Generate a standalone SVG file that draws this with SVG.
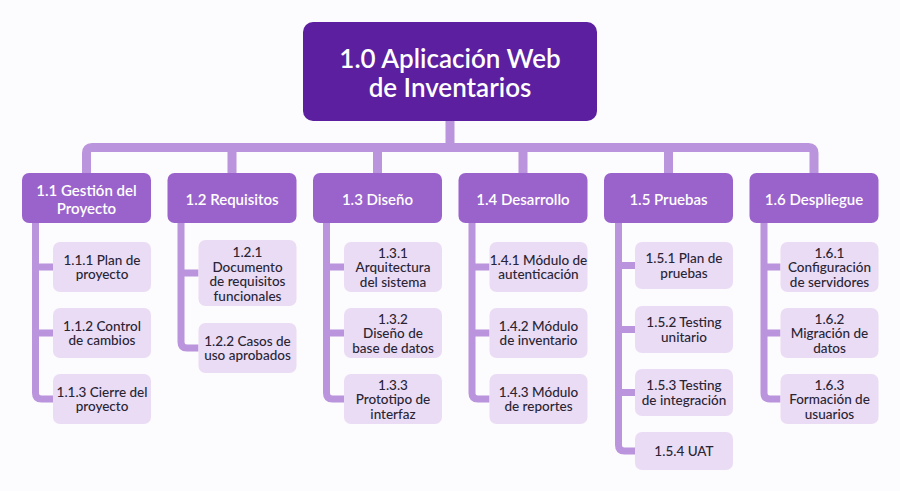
<svg xmlns="http://www.w3.org/2000/svg" width="900" height="491" viewBox="0 0 900 491">
<style>
.bg{fill:#fcfbfd}
.root{fill:#5b1f9f}
.l1{fill:#9a63cb}
.l2{fill:#e9dcf4}
.con{fill:none;stroke:#ba94dc;stroke-linejoin:round;stroke-linecap:butt}
.bar{stroke-width:9}
.sp{stroke-width:7}
text{font-family:Lato,"Open Sans","Liberation Sans",sans-serif;text-anchor:middle}
.tr{font-size:26px;font-weight:600;fill:#ffffff}
.t1{font-size:15px;font-weight:600;fill:#ffffff}
.t2{font-size:13.5px;font-weight:500;fill:#2a2434}
</style>
<rect class="bg" x="0" y="0" width="900" height="491"/>
<g id="connectors">
<path class="con bar" d="M450,121 V147"/>
<path class="con bar" d="M86.5,173 V153 Q86.5,147.5 92,147.5 H808.5 Q814,147.5 814,153 V173"/>
<path class="con bar" d="M232,147.5 V173 M377.5,147.5 V173 M523,147.5 V173 M668.5,147.5 V173"/>
<path class="con sp" d="M35.5,223 V393 Q35.5,399 41.5,399 H53 M35.5,267 H53 M35.5,333 H53"/>
<path class="con sp" d="M181,223 V342 Q181,348 187,348 H198.5 M181,273 H198.5"/>
<path class="con sp" d="M326.5,223 V393 Q326.5,399 332.5,399 H344 M326.5,267 H344 M326.5,333 H344"/>
<path class="con sp" d="M472,223 V393 Q472,399 478,399 H489.5 M472,267 H489.5 M472,333 H489.5"/>
<path class="con sp" d="M618.5,223 V445 Q618.5,451 624.5,451 H635 M618.5,265.5 H635 M618.5,329.5 H635 M618.5,392.5 H635"/>
<path class="con sp" d="M764,223 V393 Q764,399 770,399 H780.5 M764,267 H780.5 M764,333 H780.5"/>
</g>
<g id="n1_0"><rect class="root" x="303" y="22" width="294" height="99" rx="10"/><text class="tr" x="450" y="68">1.0 Aplicación Web</text><text class="tr" x="450" y="97">de Inventarios</text></g>
<g id="n1_1"><rect class="l1" x="22" y="173" width="129" height="50" rx="7"/><text class="t1" x="86.5" y="195.5">1.1 Gestión del</text><text class="t1" x="86.5" y="213.5">Proyecto</text></g>
<g id="n1_2"><rect class="l1" x="167.5" y="173" width="129" height="50" rx="7"/><text class="t1" x="232" y="204.5">1.2 Requisitos</text></g>
<g id="n1_3"><rect class="l1" x="313" y="173" width="129" height="50" rx="7"/><text class="t1" x="377.5" y="204.5">1.3 Diseño</text></g>
<g id="n1_4"><rect class="l1" x="458.5" y="173" width="129" height="50" rx="7"/><text class="t1" x="523" y="204.5">1.4 Desarrollo</text></g>
<g id="n1_5"><rect class="l1" x="604" y="173" width="129" height="50" rx="7"/><text class="t1" x="668.5" y="204.5">1.5 Pruebas</text></g>
<g id="n1_6"><rect class="l1" x="749.5" y="173" width="129" height="50" rx="7"/><text class="t1" x="814" y="204.5">1.6 Despliegue</text></g>

<g id="n1_1_1"><rect class="l2" x="53" y="242" width="98" height="50" rx="7"/><text class="t2" x="102" y="264.5">1.1.1 Plan de</text><text class="t2" x="102" y="279.2">proyecto</text></g>
<g id="n1_1_2"><rect class="l2" x="53" y="308" width="98" height="50" rx="7"/><text class="t2" x="102" y="330.5">1.1.2 Control</text><text class="t2" x="102" y="345.2">de cambios</text></g>
<g id="n1_1_3"><rect class="l2" x="53" y="374" width="98" height="50" rx="7"/><text class="t2" x="102" y="396.5">1.1.3 Cierre del</text><text class="t2" x="102" y="411.2">proyecto</text></g>

<g id="n1_2_1"><rect class="l2" x="198.5" y="240" width="98" height="66" rx="7"/><text class="t2" x="247.5" y="257">1.2.1</text><text class="t2" x="247.5" y="271.7">Documento</text><text class="t2" x="247.5" y="286.4">de requisitos</text><text class="t2" x="247.5" y="301.1">funcionales</text></g>
<g id="n1_2_2"><rect class="l2" x="198.5" y="323" width="98" height="50" rx="7"/><text class="t2" x="247.5" y="345.5">1.2.2 Casos de</text><text class="t2" x="247.5" y="360.2">uso aprobados</text></g>

<g id="n1_3_1"><rect class="l2" x="344" y="242" width="98" height="50" rx="7"/><text class="t2" x="393" y="257.5">1.3.1</text><text class="t2" x="393" y="272.2">Arquitectura</text><text class="t2" x="393" y="286.9">del sistema</text></g>
<g id="n1_3_2"><rect class="l2" x="344" y="308" width="98" height="50" rx="7"/><text class="t2" x="393" y="323.5">1.3.2</text><text class="t2" x="393" y="338.2">Diseño de</text><text class="t2" x="393" y="352.9">base de datos</text></g>
<g id="n1_3_3"><rect class="l2" x="344" y="374" width="98" height="50" rx="7"/><text class="t2" x="393" y="389.5">1.3.3</text><text class="t2" x="393" y="404.2">Prototipo de</text><text class="t2" x="393" y="418.9">interfaz</text></g>

<g id="n1_4_1"><rect class="l2" x="489.5" y="242" width="98" height="50" rx="7"/><text class="t2" x="538.5" y="264.5">1.4.1 Módulo de</text><text class="t2" x="538.5" y="279.2">autenticación</text></g>
<g id="n1_4_2"><rect class="l2" x="489.5" y="308" width="98" height="50" rx="7"/><text class="t2" x="538.5" y="330.5">1.4.2 Módulo</text><text class="t2" x="538.5" y="345.2">de inventario</text></g>
<g id="n1_4_3"><rect class="l2" x="489.5" y="374" width="98" height="50" rx="7"/><text class="t2" x="538.5" y="396.5">1.4.3 Módulo</text><text class="t2" x="538.5" y="411.2">de reportes</text></g>

<g id="n1_5_1"><rect class="l2" x="635" y="242" width="98" height="47" rx="7"/><text class="t2" x="684" y="263">1.5.1 Plan de</text><text class="t2" x="684" y="277.7">pruebas</text></g>
<g id="n1_5_2"><rect class="l2" x="635" y="306" width="98" height="47" rx="7"/><text class="t2" x="684" y="327">1.5.2 Testing</text><text class="t2" x="684" y="341.7">unitario</text></g>
<g id="n1_5_3"><rect class="l2" x="635" y="369" width="98" height="47" rx="7"/><text class="t2" x="684" y="390">1.5.3 Testing</text><text class="t2" x="684" y="404.7">de integración</text></g>
<g id="n1_5_4"><rect class="l2" x="635" y="432" width="98" height="38" rx="7"/><text class="t2" x="684" y="455.9">1.5.4 UAT</text></g>

<g id="n1_6_1"><rect class="l2" x="780.5" y="242" width="98" height="50" rx="7"/><text class="t2" x="829.5" y="257.5">1.6.1</text><text class="t2" x="829.5" y="272.2">Configuración</text><text class="t2" x="829.5" y="286.9">de servidores</text></g>
<g id="n1_6_2"><rect class="l2" x="780.5" y="308" width="98" height="50" rx="7"/><text class="t2" x="829.5" y="323.5">1.6.2</text><text class="t2" x="829.5" y="338.2">Migración de</text><text class="t2" x="829.5" y="352.9">datos</text></g>
<g id="n1_6_3"><rect class="l2" x="780.5" y="374" width="98" height="50" rx="7"/><text class="t2" x="829.5" y="389.5">1.6.3</text><text class="t2" x="829.5" y="404.2">Formación de</text><text class="t2" x="829.5" y="418.9">usuarios</text></g>
</svg>
